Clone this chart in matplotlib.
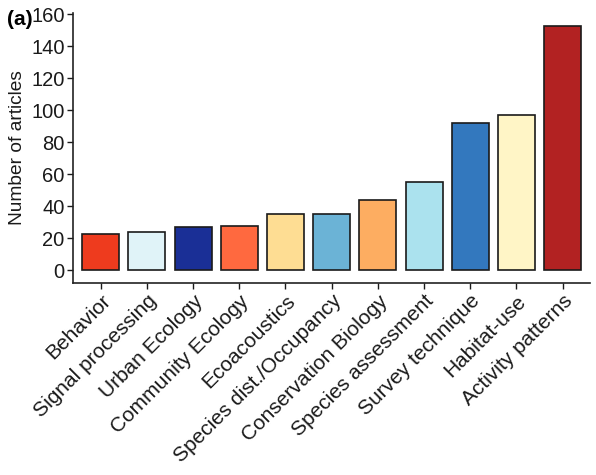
import numpy as np
import matplotlib.pyplot as plt

plt.rcParams['font.family'] = ['Liberation Sans', 'DejaVu Sans']

# ----------------------------
# data
# ----------------------------
categories = ["Behavior", "Signal processing", "Urban Ecology", "Community Ecology",
              "Ecoacoustics", "Species dist./Occupancy", "Conservation Biology",
              "Species assessment", "Survey technique", "Habitat-use", "Activity patterns"]
counts = [23, 24, 27, 28, 35, 35, 44, 55, 92, 97, 153]
colors = ["#EE3B1E", "#E0F3F8", "#1A2F96", "#FF693F", "#FEDD93", "#6BB3D6",
          "#FDAD61", "#ABE2EE", "#3378BE", "#FFF5C6", "#B22222"]
yticks = [0, 20, 40, 60, 80, 100, 120, 140, 160]

fig = plt.figure(figsize=(5.96, 4.75), dpi=100)
ax = fig.add_axes([0.1225, 0.404, 0.868, 0.569])

x = np.arange(len(categories))
ax.bar(x, counts, width=0.8, color=colors, edgecolor="#1a1a1a", linewidth=1.2)

ax.set_xlim(-0.6, len(categories) - 0.4)
ax.set_ylim(-8, 161)
ax.set_yticks(yticks)
ax.set_xticks(x)
ax.set_xticklabels(categories, rotation=45, ha="right", va="top",
                   rotation_mode="anchor", fontsize=15)
ax.tick_params(axis="y", labelsize=14.5, length=4, width=1, pad=2, colors="#1a1a1a")
ax.tick_params(axis="x", length=4, width=1, pad=2, colors="#1a1a1a")
ax.set_ylabel("Number of articles", fontsize=13.8, labelpad=4, color="#1a1a1a")

for s in ["top", "right"]:
    ax.spines[s].set_visible(False)
for s in ["left", "bottom"]:
    ax.spines[s].set_linewidth(1.2)
    ax.spines[s].set_color("#222222")

fig.text(0.012, 0.958, "(a)", fontsize=15, fontweight="bold", va="center", ha="left")

fig.savefig("out.png", dpi=100)
